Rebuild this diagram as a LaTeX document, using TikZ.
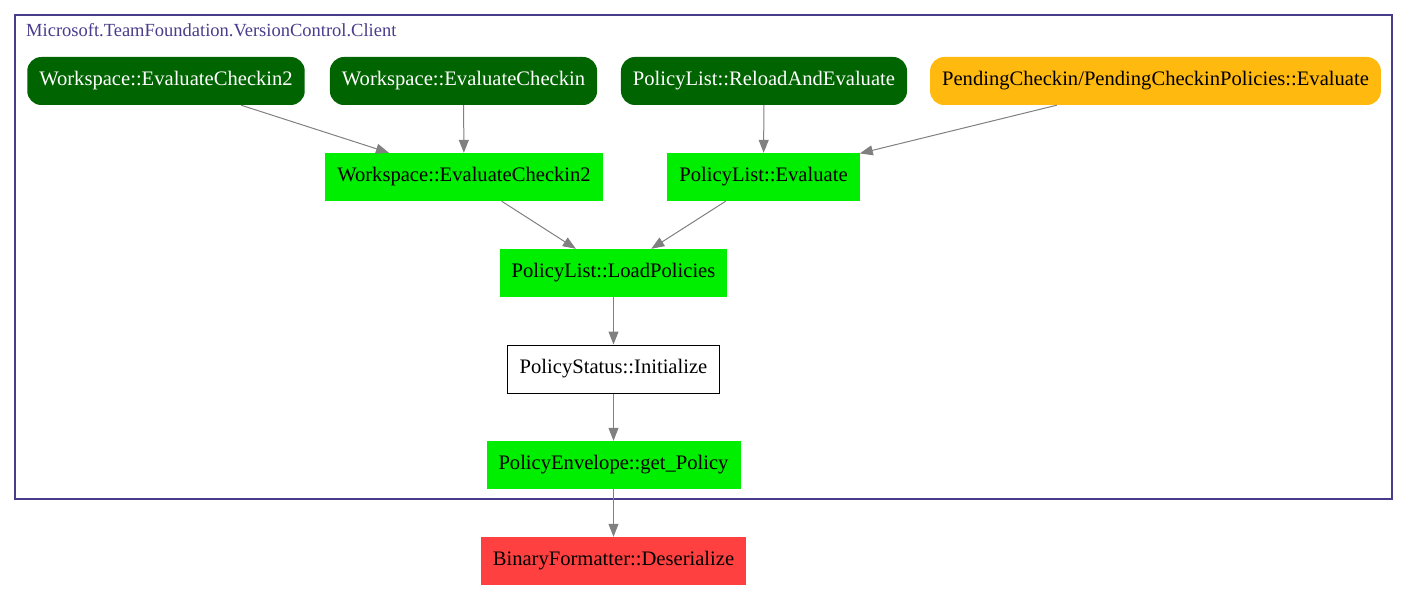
\documentclass[tikz,border=0pt]{standalone}
\usepackage{fontspec}
\setmainfont{Liberation Serif}
\definecolor{darkgreen}{HTML}{006400}
\definecolor{brightgreen}{HTML}{00EE00}
\definecolor{goldbox}{HTML}{FFB90F}
\definecolor{redbox}{HTML}{FF4040}
\definecolor{clusterblue}{HTML}{483D8B}
\usetikzlibrary{arrows.meta}

\begin{document}
\begin{tikzpicture}[x=1pt, y=-1pt,
  fn/.style={minimum height=48pt, inner xsep=12pt, inner ysep=0pt, font=\fontsize{20.6}{24}\selectfont},
  caller/.style={fn, rounded corners=14pt, fill=darkgreen, text=white},
  external/.style={fn, rounded corners=14pt, fill=goldbox},
  hit/.style={fn, fill=brightgreen},
  plain/.style={fn, draw=black, line width=1pt, fill=white},
  sink/.style={fn, fill=redbox},
  call/.style={draw=gray, line width=1pt, -{Triangle[length=13pt, width=10pt]}}]
  \useasboundingbox (0,0) rectangle (1408,591);
  \draw[clusterblue, line width=2pt] (15,15) rectangle (1392,499);
  \node[anchor=west, inner sep=0pt, clusterblue, font=\fontsize{18.5}{22}\selectfont] (ns) at (26,30) {Microsoft.TeamFoundation.VersionControl.Client};

  \node[caller] (evalci2) at (166,81) {Workspace::EvaluateCheckin2};
  \node[caller] (evalci) at (463.5,81) {Workspace::EvaluateCheckin};
  \node[caller] (reload) at (764,81) {PolicyList::ReloadAndEvaluate};
  \node[external] (pending) at (1155.5,81) {PendingCheckin/PendingCheckinPolicies::Evaluate};

  \node[hit] (wsevalci2) at (464,177) {Workspace::EvaluateCheckin2};
  \node[hit] (plevaluate) at (763.5,177) {PolicyList::Evaluate};
  \node[hit] (loadpol) at (613.5,273) {PolicyList::LoadPolicies};
  \node[plain] (psinit) at (613.5,369) {PolicyStatus::Initialize};
  \node[hit] (getpol) at (613.5,465) {PolicyEnvelope::get\_Policy};
  \node[sink] (deser) at (613.5,561) {BinaryFormatter::Deserialize};

  \draw[call] (evalci2) -- (wsevalci2);
  \draw[call] (evalci) -- (wsevalci2);
  \draw[call] (reload) -- (plevaluate);
  \draw[call] (pending) -- (plevaluate);
  \draw[call] (wsevalci2) -- (loadpol);
  \draw[call] (plevaluate) -- (loadpol);
  \draw[call] (loadpol) -- (psinit);
  \draw[call] (psinit) -- (getpol);
  \draw[call] (getpol) -- (deser);
\end{tikzpicture}
\end{document}
